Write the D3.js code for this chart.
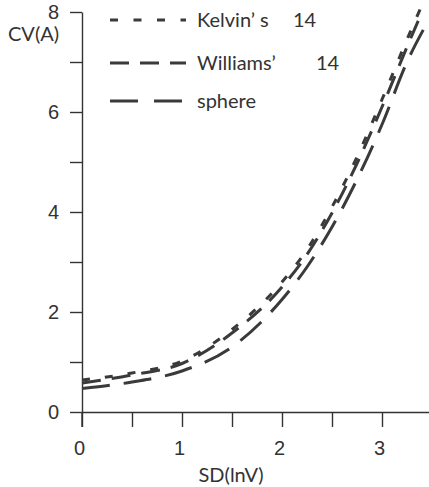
<!DOCTYPE html>
<html>
<head>
<meta charset="utf-8">
<script src="https://cdn.jsdelivr.net/npm/d3@7"></script>
<style>
  html, body { margin: 0; padding: 0; background: #fff; }
  svg { display: block; font-family: Lato, "Open Sans", sans-serif; }
  .axis text { font-size: 20px; fill: #333; }
  .axis line, .axis path { stroke: #333; stroke-width: 1.4px; }
</style>
</head>
<body>
<div id="chart"></div>
<script>
// data
const sdValues = [0, 0.5, 1, 1.5, 2, 2.25, 2.5, 2.75, 3, 3.25];
const kelvinX = sdValues.concat([3.38]);
const kelvinCV = [0.64, 0.78, 1.02, 1.65, 2.6, 3.25, 4.1, 5.1, 6.25, 7.45, 8.05];
const williamsX = sdValues.concat([3.4]);
const williamsCV = [0.58, 0.74, 0.97, 1.58, 2.5, 3.15, 3.98, 4.97, 6.1, 7.3, 8.0];
const sphereX = sdValues.concat([3.47]);
const sphereCV = [0.47, 0.6, 0.82, 1.3, 2.25, 2.9, 3.7, 4.65, 5.75, 7.0, 7.85];

const seriesNames = ["Kelvin’ s", "Williams’", "sphere"];
const seriesSuffix = ["14", "14", ""];

const xTicks = [0, 0.5, 1, 1.5, 2, 2.5, 3];
const yTicks = [0, 1, 2, 3, 4, 5, 6, 7, 8];

const W = 429, H = 487;
const margin = { top: 12, right: 0, bottom: 74, left: 82 };

const svg = d3.select("#chart").append("svg")
  .attr("width", W).attr("height", H);

const x = d3.scaleLinear().domain([0, 3.47]).range([margin.left, W - margin.right]);
const y = d3.scaleLinear().domain([0, 8]).range([H - margin.bottom - 1, margin.top]);

// Axes
const yAxis = d3.axisLeft(y).tickValues(yTicks).tickSize(12).tickSizeOuter(0)
  .tickPadding(11)
  .tickFormat(d => d % 2 === 0 ? d : "");
svg.append("g").attr("class", "axis")
  .attr("transform", `translate(${margin.left},0)`)
  .call(yAxis);

const xAxis = d3.axisBottom(x).tickValues(xTicks).tickSize(15).tickSizeOuter(0)
  .tickPadding(14)
  .tickFormat(d => Number.isInteger(d) ? d : "");
svg.append("g").attr("class", "axis")
  .attr("transform", `translate(0,${y(0)})`)
  .call(xAxis)
  .selectAll("text").attr("dx", -3);

// y axis runs a bit below the x axis
svg.append("line")
  .attr("x1", x(0)).attr("x2", x(0))
  .attr("y1", y(0)).attr("y2", y(0) + 15)
  .attr("stroke", "#333").attr("stroke-width", 1.4);

// axis titles
svg.append("text").attr("x", 8).attr("y", 41)
  .attr("font-size", 20).attr("fill", "#333").text("CV(A)");
svg.append("text").attr("x", 231).attr("y", 482)
  .attr("text-anchor", "middle")
  .attr("font-size", 20).attr("fill", "#333").text("SD(lnV)");

// curves
const dashes = ["8,15", "19,11", "28,14"];
const series = [
  kelvinX.map((d, i) => [d, kelvinCV[i]]),
  williamsX.map((d, i) => [d, williamsCV[i]]),
  sphereX.map((d, i) => [d, sphereCV[i]])
];

const line = d3.line()
  .curve(d3.curveMonotoneX)
  .x(d => x(d[0]))
  .y(d => y(d[1]));

svg.append("g").selectAll("path")
  .data(series)
  .join("path")
    .attr("d", line)
    .attr("fill", "none")
    .attr("stroke", "#3a3a3a")
    .attr("stroke-width", 3)
    .attr("stroke-dasharray", (d, i) => dashes[i]);

// legend
const legendRows = [20, 63, 101];
const legend = svg.append("g");
seriesNames.forEach((name, i) => {
  legend.append("line")
    .attr("x1", 110).attr("x2", 186)
    .attr("y1", legendRows[i]).attr("y2", legendRows[i])
    .attr("stroke", "#3a3a3a").attr("stroke-width", 3)
    .attr("stroke-dasharray", i === 0 ? "8,15.5" : i === 1 ? "19,11" : "28,16");
  legend.append("text")
    .attr("x", 197).attr("y", legendRows[i] + 7)
    .attr("font-size", 20).attr("fill", "#333")
    .text(name);
  if (seriesSuffix[i]) {
    legend.append("text")
      .attr("x", i === 0 ? 293 : 316).attr("y", legendRows[i] + 7)
      .attr("font-size", 20).attr("fill", "#333")
      .text(seriesSuffix[i]);
  }
});
</script>
</body>
</html>
